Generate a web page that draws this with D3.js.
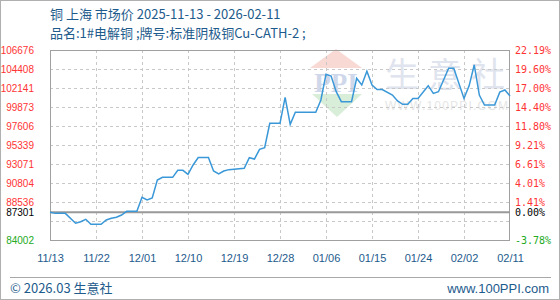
<!DOCTYPE html>
<html><head><meta charset="utf-8">
<script src="https://cdn.jsdelivr.net/npm/d3@7"></script>
<style>body{margin:0;background:#fff}svg{display:block}</style>
</head><body><svg id="c" width="560" height="300"></svg>
<script>
// ---- data ----
const dates = ["2025-11-13","2025-11-14","2025-11-16","2025-11-18","2025-11-19","2025-11-20","2025-11-21","2025-11-23","2025-11-24","2025-11-25","2025-11-26","2025-11-27","2025-11-28","2025-11-30","2025-12-01","2025-12-02","2025-12-03","2025-12-04","2025-12-05","2025-12-07","2025-12-08","2025-12-09","2025-12-10","2025-12-11","2025-12-12","2025-12-14","2025-12-15","2025-12-16","2025-12-17","2025-12-18","2025-12-21","2025-12-22","2025-12-23","2025-12-24","2025-12-25","2025-12-26","2025-12-28","2025-12-29","2025-12-30","2025-12-31","2026-01-04","2026-01-05","2026-01-06","2026-01-07","2026-01-08","2026-01-09","2026-01-11","2026-01-12","2026-01-13","2026-01-14","2026-01-15","2026-01-16","2026-01-17","2026-01-19","2026-01-20","2026-01-21","2026-01-22","2026-01-23","2026-01-24","2026-01-26","2026-01-27","2026-01-28","2026-01-29","2026-01-30","2026-01-31","2026-02-02","2026-02-03","2026-02-04","2026-02-05","2026-02-06","2026-02-08","2026-02-09","2026-02-10","2026-02-11"];
const prices = [87301,87180,87180,86000,86186,86470,85876,85876,86389,86590,86710,86985,87427,87427,89098,88775,89014,91162,91480,91480,92320,92320,91843,92953,93850,93850,92236,91878,92236,92400,92558,93824,93668,94826,95017,97928,97928,101031,97800,99241,99241,100709,103776,103573,101700,100507,100507,103298,102500,104150,102500,101950,101950,101305,100590,100196,100196,100900,100900,102420,101500,101700,103100,104491,104491,100900,102400,104890,101305,100113,100113,101650,101900,101200];
const basePrice = 87301;
const yLevels = [84002,86269,88536,90804,93071,95339,97606,99873,102141,104408,106676];
const yLabelValues = [84002,87301,88536,90804,93071,95339,97606,99873,102141,104408,106676];
const xTickLabels = ["11/13","11/22","12/01","12/10","12/19","12/28","01/06","01/15","01/24","02/02","02/11"];
const xTickDates = ["2025-11-13","2025-11-22","2025-12-01","2025-12-10","2025-12-19","2025-12-28","2026-01-06","2026-01-15","2026-01-24","2026-02-02","2026-02-11"];
const title1 = "铜 上海 市场价 2025-11-13 - 2026-02-11";
const title2 = "品名:1#电解铜 ;牌号:标准阴极铜Cu-CATH-2 ;";

// ---- layout ----
const L = 50, R = 510, T = 50, B = 240;
const parse = d3.utcParse("%Y-%m-%d");
const pts = dates.map((d,i)=>({date:parse(d), v:prices[i]}));
const x = d3.scaleUtc().domain([parse(xTickDates[0]), parse(xTickDates[xTickDates.length-1])]).range([L,R]);
const y = d3.scaleLinear().domain([yLevels[0], yLevels[yLevels.length-1]]).range([B,T]);

const svg = d3.select("#c");
const blue = "#1d5b8c";
const font = "'Liberation Sans', Arial, sans-serif";
const cjk = "'Noto Sans CJK SC', 'Liberation Sans', sans-serif";

svg.append("rect").attr("x",0.5).attr("y",0.5).attr("width",559).attr("height",299)
  .attr("fill","#fff").attr("stroke","#b0b0b0");

// titles
svg.append("text").attr("x",50).attr("y",19).attr("font-family",cjk).attr("font-size",13)
  .attr("fill",blue).text(title1);
svg.append("text").attr("x",50).attr("y",38).attr("font-family",cjk).attr("font-size",13)
  .attr("fill",blue).text(title2);

// watermark
const wm = svg.append("g");
wm.append("path").attr("d","M336,49 L362,68 L310,68 Z").attr("fill","#f8d9d4");
wm.append("text").attr("x",336).attr("y",92).attr("text-anchor","middle")
  .attr("font-family","'Liberation Serif', serif").attr("font-weight","bold").attr("font-size",27)
  .attr("fill","#cfd8ea").text("PPI");
wm.append("path").attr("d","M312,94 L362,94 L337,117 Z").attr("fill","#d8eed8");
wm.append("text").attr("x",385).attr("y",87).attr("font-family",cjk).attr("font-size",34)
  .attr("fill","#dfe4ee").attr("textLength",120).attr("lengthAdjust","spacing").text("生意社");
wm.append("text").attr("x",385).attr("y",110).attr("font-family",font).attr("font-size",12)
  .attr("fill","#e6e6e6").attr("textLength",123).attr("lengthAdjust","spacing").text("WWW.100PPI.COM");

// gridlines
const grid = svg.append("g").attr("stroke","#c8c8c8").attr("stroke-dasharray","3,3");
grid.selectAll("line.h").data(yLevels.slice(1,-1)).join("line")
  .attr("x1",L).attr("x2",R).attr("y1",d=>Math.round(y(d))+0.5).attr("y2",d=>Math.round(y(d))+0.5);
grid.selectAll("line.v").data(xTickDates.slice(1,-1)).join("line")
  .attr("y1",T).attr("y2",B).attr("x1",d=>Math.round(x(parse(d)))+0.5).attr("x2",d=>Math.round(x(parse(d)))+0.5);

// frame
svg.append("rect").attr("x",L+0.5).attr("y",T+0.5).attr("width",R-L-1).attr("height",B-T)
  .attr("fill","none").attr("stroke","#a0a0a0");
// base line
svg.append("line").attr("x1",L).attr("x2",R).attr("y1",y(basePrice)).attr("y2",y(basePrice))
  .attr("stroke","#999").attr("stroke-width",2);

// left axis
const colorFor = v => v===basePrice ? "#000" : (v<basePrice ? "#22aa22" : "#ff3333");
const ax = svg.append("g").attr("transform",`translate(${L},0)`)
  .call(d3.axisLeft(y).tickValues(yLabelValues).tickSize(0).tickPadding(16).tickFormat(d3.format("d")));
ax.select(".domain").remove();
ax.selectAll("text").attr("font-family",font).attr("font-size",10).attr("fill",colorFor);

// right axis
const ar = svg.append("g").attr("transform",`translate(${R},0)`)
  .call(d3.axisRight(y).tickValues(yLabelValues).tickSize(0).tickPadding(5)
    .tickFormat(v => ((v/basePrice-1)*100).toFixed(2)+"%"));
ar.select(".domain").remove();
ar.selectAll("text").attr("font-family","'DejaVu Sans Mono', monospace").attr("font-size",10).attr("fill",colorFor);

// bottom axis
const ab = svg.append("g").attr("transform",`translate(0,${B})`)
  .call(d3.axisBottom(x).tickValues(xTickDates.map(parse)).tickSize(0).tickPadding(14)
    .tickFormat((d,i)=>xTickLabels[i]));
ab.select(".domain").remove();
ab.selectAll("text").attr("font-family",font).attr("font-size",11).attr("fill",blue);

// line
svg.append("path").datum(pts)
  .attr("fill","none").attr("stroke","#3a98d8").attr("stroke-width",1.5)
  .attr("d", d3.line().x(d=>x(d.date)).y(d=>y(d.v)));

// footer
svg.append("line").attr("x1",10).attr("x2",551).attr("y1",277.5).attr("y2",277.5).attr("stroke","#a8a8a8");
svg.append("text").attr("x",10).attr("y",293).attr("font-family",cjk).attr("font-size",13)
  .attr("fill",blue).text("© 2026.03 生意社");
svg.append("text").attr("x",549).attr("y",293).attr("text-anchor","end").attr("font-family",font).attr("font-size",13)
  .attr("fill",blue).text("www.100PPI.com");
</script></body></html>
